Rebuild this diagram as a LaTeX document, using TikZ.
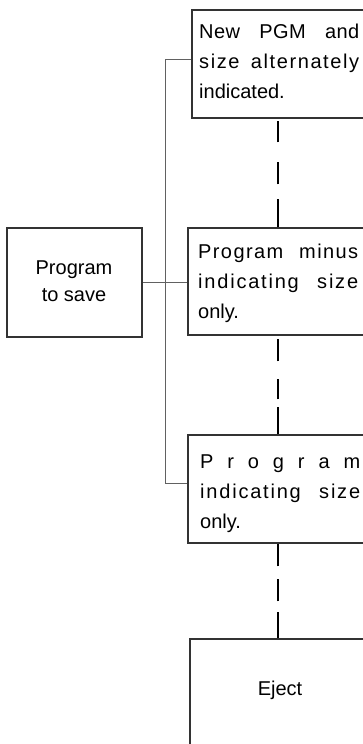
\documentclass[tikz,border=0pt]{standalone}
\usepackage{fontspec}
\setmainfont{Liberation Sans}
\newlength{\jw}\setlength{\jw}{160pt}
\newcommand{\jline}[2]{{\addfontfeature{LetterSpace=#1}\makebox[\jw][s]{#2}}}
\begin{document}
\begin{tikzpicture}[x=1pt,y=-1pt,
  box/.style={draw=black!80,line width=1.1pt,inner sep=0pt,fill=white},
  conn/.style={draw=black!62,line width=1pt},
  dashconn/.style={draw=black,line width=2.3pt},
  boxtext/.style={inner sep=0pt,text width=\jw,align=left,
    font=\fontsize{20}{30}\selectfont},
  bigtext/.style={inner sep=0pt,align=center,font=\fontsize{20}{26.5}\selectfont}]
\useasboundingbox (0,0) rectangle (363,744);
\clip (0,0) rectangle (363,744);
% boxes
\node[box,minimum width=174pt,minimum height=108pt] (b1) at (279,64) {};
\node[box,minimum width=180pt,minimum height=107pt] (b2) at (278,281.5) {};
\node[box,minimum width=180pt,minimum height=108pt] (b3) at (278,489) {};
\node[box,minimum width=176pt,minimum height=122pt] (ej) at (278,700) {};
\node[box,minimum width=135pt,minimum height=109pt] (sv) at (74.5,282.5) {};
% texts
\node[boxtext,anchor=base west] (t1) at (199,38)
  {\jline{2}{New\hfill PGM\hfill and}\\\jline{8}{size\hfill alternately}\\indicated.};
\node[boxtext,anchor=base west] (t2) at (198,258)
  {\jline{7}{Program\hfill minus}\\\jline{9}{indicating\hfill size}\\only.};
\node[boxtext,anchor=base west] (t3) at (200,468)
  {\jline{0}{P\hfill r\hfill o\hfill g\hfill r\hfill a\hfill m}\\\jline{9}{indicating\hfill size}\\only.};
\node[bigtext,anchor=base] (te) at (280,695) {Eject};
\node[bigtext,anchor=base] (ts) at (74,301) {Program\\to save};
% connectors
\coordinate (bt) at (165,59);
\coordinate (bb) at (165,483);
\draw[conn] (b1.west |- bt) -- (bt) -- (bb) -- (b3.west |- bb);
\draw[conn] (sv.east) -- (sv.east -| b2.west);
\draw[dashconn,dash pattern=on 28pt off 15pt on 22pt off 20pt on 21pt off 60pt]
  (b2.north) -- (b2.north |- b1.south);
\draw[dashconn,dash pattern=on 27pt off 8pt on 20pt off 18pt on 22pt off 60pt]
  (b3.north) -- (b3.north |- b2.south);
\draw[dashconn,dash pattern=on 26pt off 11pt on 22pt off 13pt on 25pt off 60pt]
  (ej.north) -- (ej.north |- b3.south);
\end{tikzpicture}
\end{document}
